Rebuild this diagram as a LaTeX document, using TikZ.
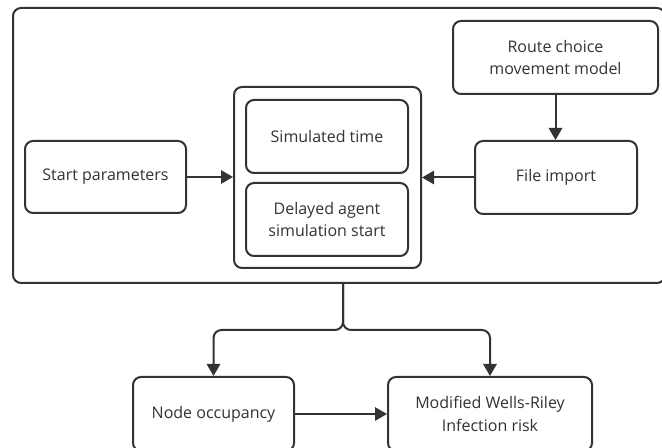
\documentclass[tikz,border=0pt]{standalone}
\usepackage{fontspec}
\setmainfont{Open Sans}
\usetikzlibrary{arrows.meta}
\definecolor{ink}{HTML}{333333}
\tikzset{
  box/.style={draw=ink, line width=1.5pt, rounded corners=6pt, align=center,
    text=ink, font=\fontsize{12}{17}\selectfont, inner sep=0pt},
  conn/.style={draw=ink, line width=1.5pt, -{Triangle[width=10pt,length=9pt]}},
}
% place a box by its pixel centre and size
\newcommand\pbox[6]{\node[box, minimum width=#4*0.75pt, minimum height=#5*0.75pt] (#1) at (#2,#3) {#6};}
\begin{document}
\begin{tikzpicture}[x=0.75pt, y=-0.75pt]
\useasboundingbox (0,0) rectangle (662,448);
\fill[white] (0,0) rectangle (662,448);
% outer frame
\pbox{outer}{339}{145.5}{652}{275}{}
% left input
\pbox{start}{105.5}{177}{161}{72}{Start parameters}
% simulation container with its two parts
\pbox{cont}{327.5}{177.5}{187}{181}{}
\pbox{simt}{327}{136.5}{162}{73}{Simulated time}
\pbox{delay}{327}{219.5}{162}{73}{Delayed agent\\simulation start}
% right inputs
\pbox{route}{555.5}{57.5}{205}{73}{Route choice\\movement model}
\pbox{file}{556}{177.5}{162}{73}{File import}
% outputs
\pbox{occ}{213.5}{414}{161}{74}{Node occupancy}
\pbox{wells}{490}{414}{204}{74}{Modified Wells-Riley\\Infection risk}
% connectors
\draw[conn] (start.east) -- (cont.west |- start.east);
\draw[conn] (file.west) -- (cont.east |- file.west);
\draw[conn] (route.south) -- (route.south |- file.north);
\coordinate (split) at (343,330);
\draw[conn, rounded corners=6pt] (split |- outer.south) -- (split) -| (occ.north);
\draw[conn, rounded corners=6pt] (split |- outer.south) -- (split) -| (wells.north);
\draw[conn] (occ.east) -- (wells.west);
\end{tikzpicture}
\end{document}
